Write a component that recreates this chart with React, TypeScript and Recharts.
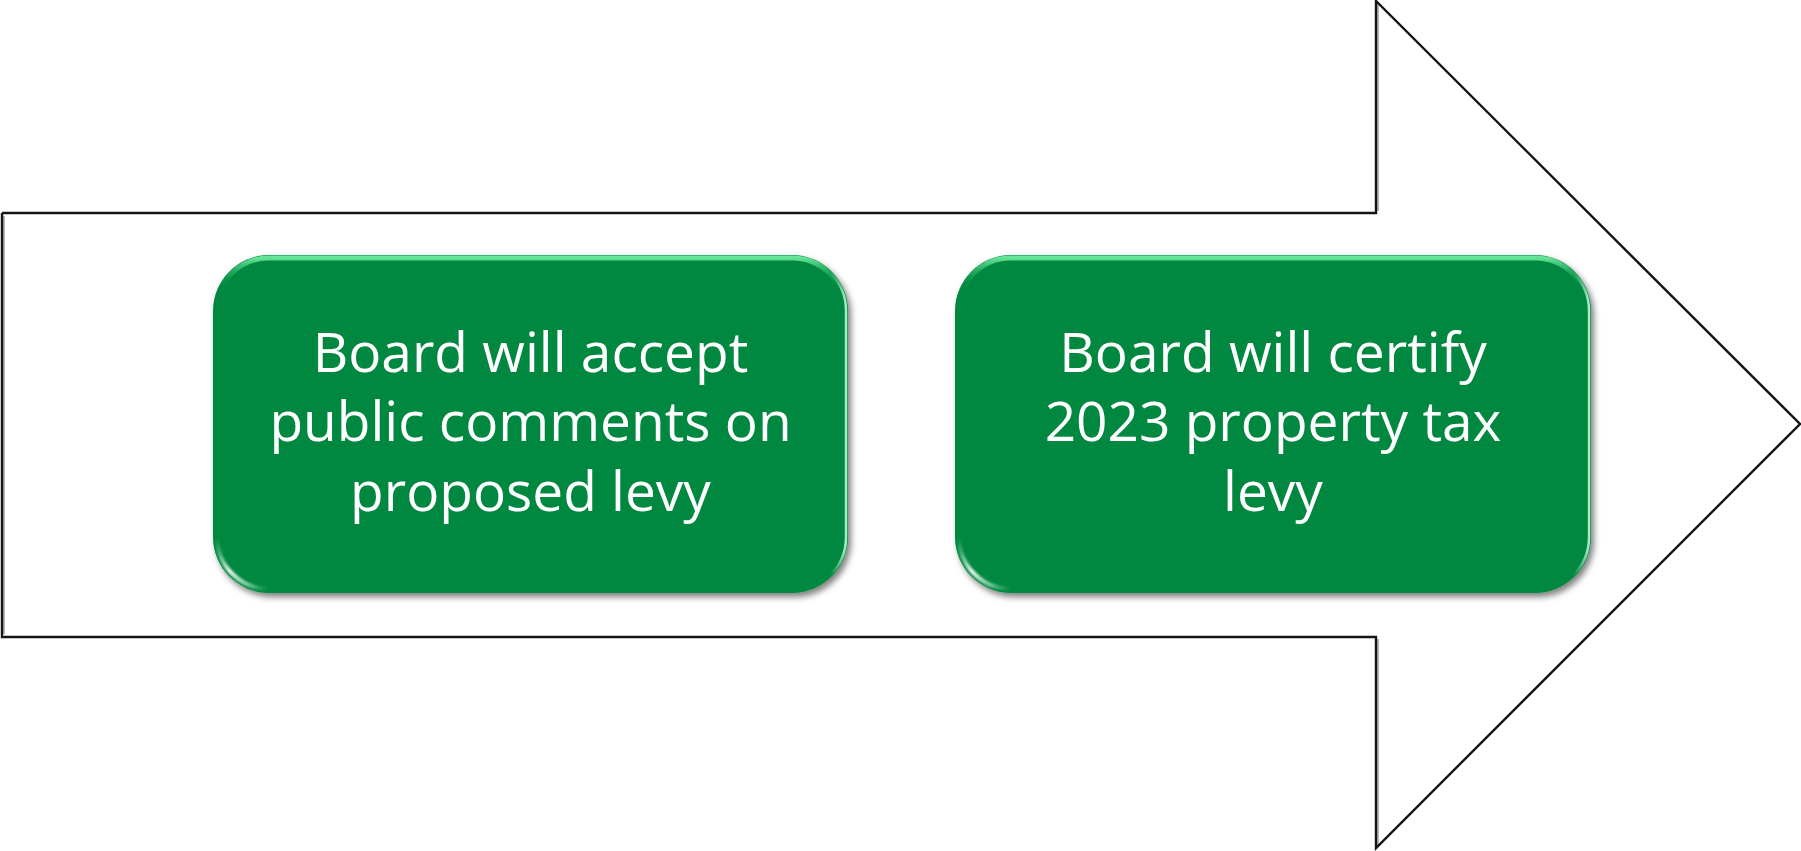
import React from 'react'
import { ComposedChart, XAxis, YAxis, Line, ReferenceArea } from 'recharts'

const WIDTH = 1801
const HEIGHT = 851

// outline of the big arrow, in picture units (x to the right, y downwards)
const arrowX = [2, 1376, 1376, 1800, 1376, 1376, 2, 2]
const arrowY = [213, 213, 1, 424, 848, 637, 637, 213]

// soft grey shading just inside the vertical edges (null breaks the line)
const edgeX = [4, 4, 700, 1378, 1378, 1000, 1378, 1378]
const edgeY: (number | null)[] = [216, 634, null, 4, 211, null, 639, 845]

// the two steps sitting on the arrow
const stepLines = [
  ['Board will accept', 'public comments on', 'proposed levy'],
  ['Board will certify', '2023 property tax', 'levy'],
]
const stepStart = [213, 955]
const stepEnd = [848, 1591]
const stepTop = 255
const stepBottom = 593

const arrowData = arrowX.map((x, i) => ({ x, y: arrowY[i] }))
const edgeData = edgeX.map((x, i) => ({ x, y: edgeY[i] }))

const GREEN = '#02873F'

interface StepBoxProps {
  x?: number
  y?: number
  width?: number
  height?: number
  lines: string[]
  id: string
}

const StepBox = ({ x = 0, y = 0, width = 0, height = 0, lines, id }: StepBoxProps) => {
  const r = 56
  const cx = x + width / 2
  const cy = y + height / 2
  const lineGap = 69.5
  const ci = 4 // inset of the corner highlight
  return (
    <g>
      <defs>
        <filter id={`shadow-${id}`} x="-10%" y="-10%" width="125%" height="130%">
          <feDropShadow dx="3" dy="4" stdDeviation="3" floodColor="#000" floodOpacity="0.5" />
        </filter>
        <filter id={`soft-${id}`} x="-20%" y="-20%" width="140%" height="140%">
          <feGaussianBlur stdDeviation="0.8" />
        </filter>
        <linearGradient id={`rimTop-${id}`} x1="0" y1="0" x2="0" y2="1">
          <stop offset="0" stopColor="#6be89c" stopOpacity="0.95" />
          <stop offset="0.05" stopColor="#3cc574" stopOpacity="0.4" />
          <stop offset="0.1" stopColor={GREEN} stopOpacity="0" />
          <stop offset="1" stopColor={GREEN} stopOpacity="0" />
        </linearGradient>
        <linearGradient id={`rimRight-${id}`} x1="0" y1="0" x2="1" y2="0">
          <stop offset="0" stopColor="#c8ffe0" stopOpacity="0" />
          <stop offset="0.975" stopColor="#c8ffe0" stopOpacity="0" />
          <stop offset="1" stopColor="#c8ffe0" stopOpacity="0.85" />
        </linearGradient>
        <linearGradient
          id={`corner-${id}`}
          gradientUnits="userSpaceOnUse"
          x1={x + ci}
          y1={y + height - r}
          x2={x + r}
          y2={y + height - ci}
        >
          <stop offset="0" stopColor="#9ff2c2" stopOpacity="0" />
          <stop offset="0.45" stopColor="#ffffff" stopOpacity="0.95" />
          <stop offset="0.75" stopColor="#c9f7dc" stopOpacity="0.6" />
          <stop offset="1" stopColor="#9ff2c2" stopOpacity="0" />
        </linearGradient>
      </defs>
      <rect x={x} y={y} width={width} height={height} rx={r} ry={r} fill={GREEN} filter={`url(#shadow-${id})`} />
      <rect
        x={x + 3}
        y={y + 3}
        width={width - 6}
        height={height - 6}
        rx={r - 3}
        ry={r - 3}
        fill="none"
        stroke={`url(#rimTop-${id})`}
        strokeWidth={5}
      />
      <rect
        x={x + 2}
        y={y + 2}
        width={width - 4}
        height={height - 4}
        rx={r - 2}
        ry={r - 2}
        fill="none"
        stroke={`url(#rimRight-${id})`}
        strokeWidth={2.5}
      />
      <path
        d={`M ${x + ci} ${y + height - r} A ${r - ci} ${r - ci} 0 0 0 ${x + r} ${y + height - ci}`}
        fill="none"
        stroke={`url(#corner-${id})`}
        strokeWidth={4}
        strokeLinecap="round"
        filter={`url(#soft-${id})`}
      />
      <text
        x={cx}
        textAnchor="middle"
        fill="#ffffff"
        style={{ fontFamily: '"Open Sans", sans-serif', fontSize: 55 }}
      >
        {lines.map((line, i) => (
          <tspan key={i} x={cx} y={cy + 17 + (i - (lines.length - 1) / 2) * lineGap}>
            {line}
          </tspan>
        ))}
      </text>
    </g>
  )
}

export default function App() {
  return (
    <div style={{ width: WIDTH, height: HEIGHT, background: '#fff' }}>
      <style>{'body{margin:0;}'}</style>
      <ComposedChart
        width={WIDTH}
        height={HEIGHT}
        data={arrowData}
        margin={{ top: 0, right: 0, bottom: 0, left: 0 }}
      >
        <XAxis dataKey="x" type="number" domain={[0, WIDTH]} hide allowDataOverflow />
        <YAxis type="number" domain={[0, HEIGHT]} reversed hide allowDataOverflow />
        <Line
          data={edgeData}
          dataKey="y"
          type="linear"
          stroke="#9aa6aa"
          strokeWidth={1.6}
          dot={false}
          activeDot={false}
          connectNulls={false}
          isAnimationActive={false}
        />
        <Line
          dataKey="y"
          type="linear"
          stroke="#141414"
          strokeWidth={2.4}
          strokeLinejoin="miter"
          dot={false}
          activeDot={false}
          isAnimationActive={false}
        />
        {stepLines.map((lines, i) => (
          <ReferenceArea
            key={i}
            x1={stepStart[i]}
            x2={stepEnd[i]}
            y1={stepTop}
            y2={stepBottom}
            shape={(props: any) => <StepBox {...props} lines={lines} id={`s${i}`} />}
          />
        ))}
      </ComposedChart>
    </div>
  )
}
